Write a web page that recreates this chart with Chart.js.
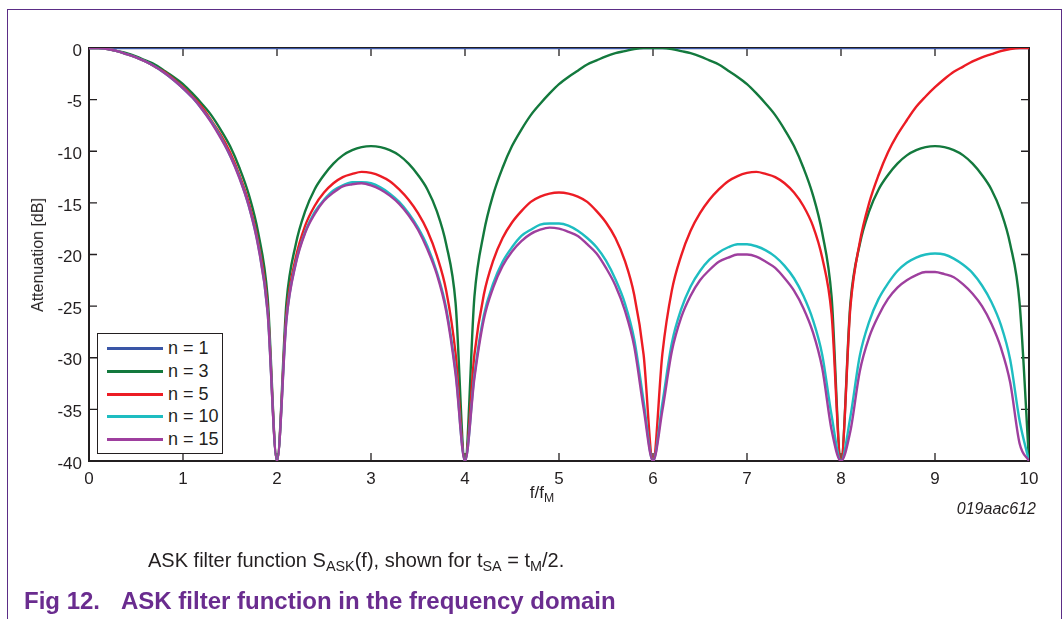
<!DOCTYPE html>
<html>
<head>
<meta charset="utf-8">
<title>ASK filter</title>
<script src="https://cdn.jsdelivr.net/npm/chart.js"></script>
<style>
  body { margin: 0; background: #fff; }
  #hoja { position: relative; width: 1063px; height: 619px; overflow: hidden; background: #fff;
          font-family: "Liberation Sans", Arial, sans-serif; color: #231f20; }
  #marco { position: absolute; left: 7px; top: 9px; width: 1055px; height: 700px; box-sizing: border-box;
           border: 1.5px solid #5b2d86; border-bottom: none; }
  #grafico { position: absolute; left: 0; top: 0; }
  .texto { position: absolute; white-space: nowrap; transform: translateY(-50%); }
  sub { font-size: 72%; vertical-align: -0.3em; line-height: 0; }
  #leyenda { position: absolute; left: 97px; top: 333px; width: 126px; height: 121px; box-sizing: border-box;
             border: 1.5px solid #231f20; background: #fff; }
  .fila { position: absolute; left: 0; height: 22px; width: 100%; }
  .fila span.linea { position: absolute; left: 9px; top: 10px; width: 56px; height: 3px; }
  .fila span.nombre { position: absolute; left: 70px; top: 0; line-height: 22px; font-size: 18px; }
</style>
</head>
<body>
<div id="hoja">
  <div id="marco"></div>
  <canvas id="grafico" width="1063" height="619"></canvas>
  <div id="leyenda"></div>
  <div class="texto" style="left:38px; top:255px; transform: translate(-50%,-50%) rotate(-90deg); font-size:16px;">Attenuation [dB]</div>
  <div class="texto" style="left:542px; top:493px; transform: translate(-50%,-50%); font-size:17px;">f/f<sub>M</sub></div>
  <div class="texto" style="right:27px; top:509px; font-size:16px; font-style:italic;">019aac612</div>
  <div class="texto" style="left:148px; top:560px; font-size:20px;">ASK filter function S<sub>ASK</sub>(f), shown for t<sub>SA</sub> = t<sub>M</sub>/2.</div>
  <div class="texto" style="left:24px; top:601px; font-size:24px; font-weight:bold; color:#6a2c8f;">Fig 12.</div>
  <div class="texto" style="left:121px; top:601px; font-size:24px; font-weight:bold; color:#6a2c8f;">ASK filter function in the frequency domain</div>
</div>

<script>
// f/fM
const freq = [
  0, 0.1, 0.2, 0.3, 0.4, 0.5, 0.6, 0.7, 0.8, 0.9,
  1, 1.1, 1.2, 1.3, 1.4, 1.5, 1.6, 1.7, 1.8, 1.9,
  2, 2.1, 2.2, 2.3, 2.4, 2.5, 2.6, 2.7, 2.8, 2.9,
  3, 3.1, 3.2, 3.3, 3.4, 3.5, 3.6, 3.7, 3.8, 3.9,
  4, 4.1, 4.2, 4.3, 4.4, 4.5, 4.6, 4.7, 4.8, 4.9,
  5, 5.1, 5.2, 5.3, 5.4, 5.5, 5.6, 5.7, 5.8, 5.9,
  6, 6.1, 6.2, 6.3, 6.4, 6.5, 6.6, 6.7, 6.8, 6.9,
  7, 7.1, 7.2, 7.3, 7.4, 7.5, 7.6, 7.7, 7.8, 7.9,
  8, 8.1, 8.2, 8.3, 8.4, 8.5, 8.6, 8.7, 8.8, 8.9,
  9, 9.1, 9.2, 9.3, 9.4, 9.5, 9.6, 9.7, 9.8, 9.9,
  10
];

// atenuacion en dB para cada n
const n1 = [
  0, 0, 0, 0, 0, 0, 0, 0, 0, 0,
  0, 0, 0, 0, 0, 0, 0, 0, 0, 0,
  0, 0, 0, 0, 0, 0, 0, 0, 0, 0,
  0, 0, 0, 0, 0, 0, 0, 0, 0, 0,
  0, 0, 0, 0, 0, 0, 0, 0, 0, 0,
  0, 0, 0, 0, 0, 0, 0, 0, 0, 0,
  0, 0, 0, 0, 0, 0, 0, 0, 0, 0,
  0, 0, 0, 0, 0, 0, 0, 0, 0, 0,
  0, 0, 0, 0, 0, 0, 0, 0, 0, 0,
  0, 0, 0, 0, 0, 0, 0, 0, 0, 0,
  0
];

const n3 = [
  0, 0, -0.1, -0.3, -0.5, -0.8, -1.2, -1.6, -2.2, -2.8,
  -3.5, -4.4, -5.4, -6.5, -7.9, -9.5, -11.6, -14.2, -17.9, -24.1,
  -40, -24.7, -19.0, -15.8, -13.7, -12.3, -11.2, -10.4, -9.9, -9.6,
  -9.5, -9.6, -9.9, -10.4, -11.2, -12.3, -13.7, -15.8, -19.0, -24.7,
  -40, -24.1, -17.9, -14.2, -11.6, -9.5, -7.9, -6.5, -5.4, -4.4,
  -3.5, -2.8, -2.2, -1.6, -1.2, -0.8, -0.5, -0.3, -0.1, 0,
  0, 0, -0.1, -0.3, -0.5, -0.8, -1.2, -1.6, -2.2, -2.8,
  -3.5, -4.4, -5.4, -6.5, -7.9, -9.5, -11.6, -14.2, -17.9, -24.1,
  -40, -24.7, -19.0, -15.8, -13.7, -12.3, -11.2, -10.4, -9.9, -9.6,
  -9.5, -9.6, -9.9, -10.4, -11.2, -12.3, -13.7, -15.8, -19.0, -24.7,
  -40
];

const n5 = [
  0, 0, -0.1, -0.3, -0.6, -0.9, -1.3, -1.8, -2.3, -3.0,
  -3.8, -4.7, -5.7, -7.0, -8.4, -10.1, -12.3, -15.0, -18.8, -25.1,
  -40, -25.8, -20.3, -17.2, -15.3, -14.0, -13.1, -12.5, -12.2, -12.0,
  -12.1, -12.4, -12.9, -13.7, -14.7, -16.0, -17.7, -20.1, -23.5, -29.6,
  -40, -29.7, -23.9, -20.6, -18.4, -16.9, -15.8, -14.9, -14.4, -14.1,
  -14.0, -14.1, -14.4, -14.9, -15.8, -16.9, -18.4, -20.6, -23.9, -29.7,
  -40, -29.6, -23.5, -20.1, -17.7, -16.0, -14.7, -13.7, -12.9, -12.4,
  -12.1, -12.0, -12.2, -12.5, -13.1, -14.0, -15.3, -17.2, -20.3, -25.8,
  -40, -25.1, -18.8, -15.0, -12.3, -10.1, -8.4, -7.0, -5.7, -4.7,
  -3.8, -3.0, -2.3, -1.8, -1.3, -0.9, -0.6, -0.3, -0.1, 0,
  0
];

const n10 = [
  0, 0, -0.1, -0.3, -0.6, -0.9, -1.3, -1.8, -2.4, -3.1,
  -3.9, -4.8, -5.9, -7.1, -8.6, -10.4, -12.5, -15.3, -19.1, -25.5,
  -40, -26.3, -20.8, -17.8, -15.9, -14.7, -13.8, -13.3, -13.0, -13.0,
  -13.1, -13.5, -14.1, -14.9, -16.0, -17.4, -19.2, -21.7, -25.2, -31.3,
  -40, -31.7, -25.9, -22.8, -20.7, -19.3, -18.2, -17.6, -17.1, -17.0,
  -17.0, -17.2, -17.7, -18.4, -19.3, -20.6, -22.4, -24.7, -28.2, -34.2,
  -40, -34.4, -28.6, -25.3, -23.1, -21.6, -20.5, -19.8, -19.3, -19.0,
  -19.0, -19.2, -19.6, -20.2, -21.1, -22.3, -24.0, -26.3, -29.7, -35.6,
  -40, -35.7, -29.8, -26.5, -24.3, -22.8, -21.6, -20.8, -20.3, -20.0,
  -19.9, -20.0, -20.4, -21.0, -21.8, -23.0, -24.6, -26.8, -30.2, -36.1,
  -40
];

const n15 = [
  0, 0, -0.1, -0.3, -0.6, -0.9, -1.3, -1.8, -2.4, -3.1,
  -3.9, -4.8, -5.9, -7.2, -8.7, -10.4, -12.6, -15.3, -19.2, -25.6,
  -40, -26.4, -20.9, -17.9, -16.1, -14.8, -14.0, -13.4, -13.2, -13.1,
  -13.3, -13.7, -14.3, -15.1, -16.2, -17.6, -19.5, -21.9, -25.5, -31.6,
  -40, -32.0, -26.3, -23.2, -21.1, -19.7, -18.7, -18.0, -17.6, -17.4,
  -17.5, -17.8, -18.2, -19.0, -19.9, -21.3, -23.0, -25.4, -28.9, -34.9,
  -40, -35.1, -29.4, -26.1, -24.0, -22.5, -21.5, -20.7, -20.3, -20.0,
  -20.0, -20.2, -20.7, -21.3, -22.3, -23.5, -25.2, -27.5, -31.0, -37.0,
  -40, -37.1, -31.3, -28.0, -25.9, -24.3, -23.2, -22.5, -22.0, -21.7,
  -21.7, -21.9, -22.2, -22.9, -23.8, -25.0, -26.7, -29.0, -32.4, -38.3,
  -40
];

const etiquetas = ['n = 1', 'n = 3', 'n = 5', 'n = 10', 'n = 15'];
const series = [n1, n3, n5, n10, n15];
const colores = ['#3a56a6', '#13793d', '#ec1c24', '#1ebdc1', '#9e3f9e'];

const fuente = { family: '"Liberation Sans", Arial, sans-serif', size: 17 };
const tinta = '#231f20';

// marco del area y marcas hacia adentro en los cuatro lados
const marcoEjes = {
  id: 'marcoEjes',
  beforeDatasetsDraw(chart) {
    const { ctx, chartArea: a, scales: { x, y } } = chart;
    const largo = 8;
    ctx.save();
    ctx.strokeStyle = tinta;
    ctx.lineWidth = 1.3;
    ctx.beginPath();
    x.ticks.forEach(t => {
      if (t.value <= x.min || t.value >= x.max) return;
      const px = x.getPixelForValue(t.value);
      ctx.moveTo(px, a.bottom); ctx.lineTo(px, a.bottom - largo);
      ctx.moveTo(px, a.top); ctx.lineTo(px, a.top + largo);
    });
    y.ticks.forEach(t => {
      if (t.value <= y.min || t.value >= y.max) return;
      const py = y.getPixelForValue(t.value);
      ctx.moveTo(a.left, py); ctx.lineTo(a.left + largo, py);
      ctx.moveTo(a.right, py); ctx.lineTo(a.right - largo, py);
    });
    ctx.stroke();
    ctx.lineWidth = 2;
    ctx.strokeRect(a.left, a.top, a.right - a.left, a.bottom - a.top);
    ctx.restore();
  }
};

const ctx = document.getElementById('grafico');
let grafico = new Chart(ctx, {
  type: 'line',
  data: {
    datasets: series.map((valores, i) => ({
      label: etiquetas[i],
      data: valores.map((v, j) => ({ x: freq[j], y: v })),
      borderColor: colores[i],
      borderWidth: 2.4,
      pointRadius: 0,
      cubicInterpolationMode: 'monotone',
      order: series.length - i
    }))
  },
  options: {
    responsive: false,
    animation: false,
    layout: { padding: { left: 0, top: 48, right: 34, bottom: 0 } },
    plugins: { legend: { display: false }, tooltip: { enabled: false } },
    scales: {
      x: {
        type: 'linear',
        min: 0,
        max: 10,
        grid: { display: false, drawTicks: false },
        border: { display: false },
        ticks: { stepSize: 1, padding: 8, color: tinta, font: fuente, maxRotation: 0 },
        afterFit: scale => { scale.height = 158; }
      },
      y: {
        min: -40,
        max: 0,
        grid: { display: false, drawTicks: false },
        border: { display: false },
        ticks: { stepSize: 5, padding: 7, labelOffset: 3, color: tinta, font: fuente },
        afterFit: scale => { scale.width = 89; }
      }
    }
  },
  plugins: [marcoEjes]
});

// leyenda dentro del grafico
const leyenda = document.getElementById('leyenda');
etiquetas.forEach((nombre, i) => {
  const fila = document.createElement('div');
  fila.className = 'fila';
  fila.style.top = (3 + i * 22.8) + 'px';
  fila.innerHTML = `<span class="linea" style="background:${colores[i]}"></span><span class="nombre">${nombre}</span>`;
  leyenda.appendChild(fila);
});
</script>
</body>
</html>
